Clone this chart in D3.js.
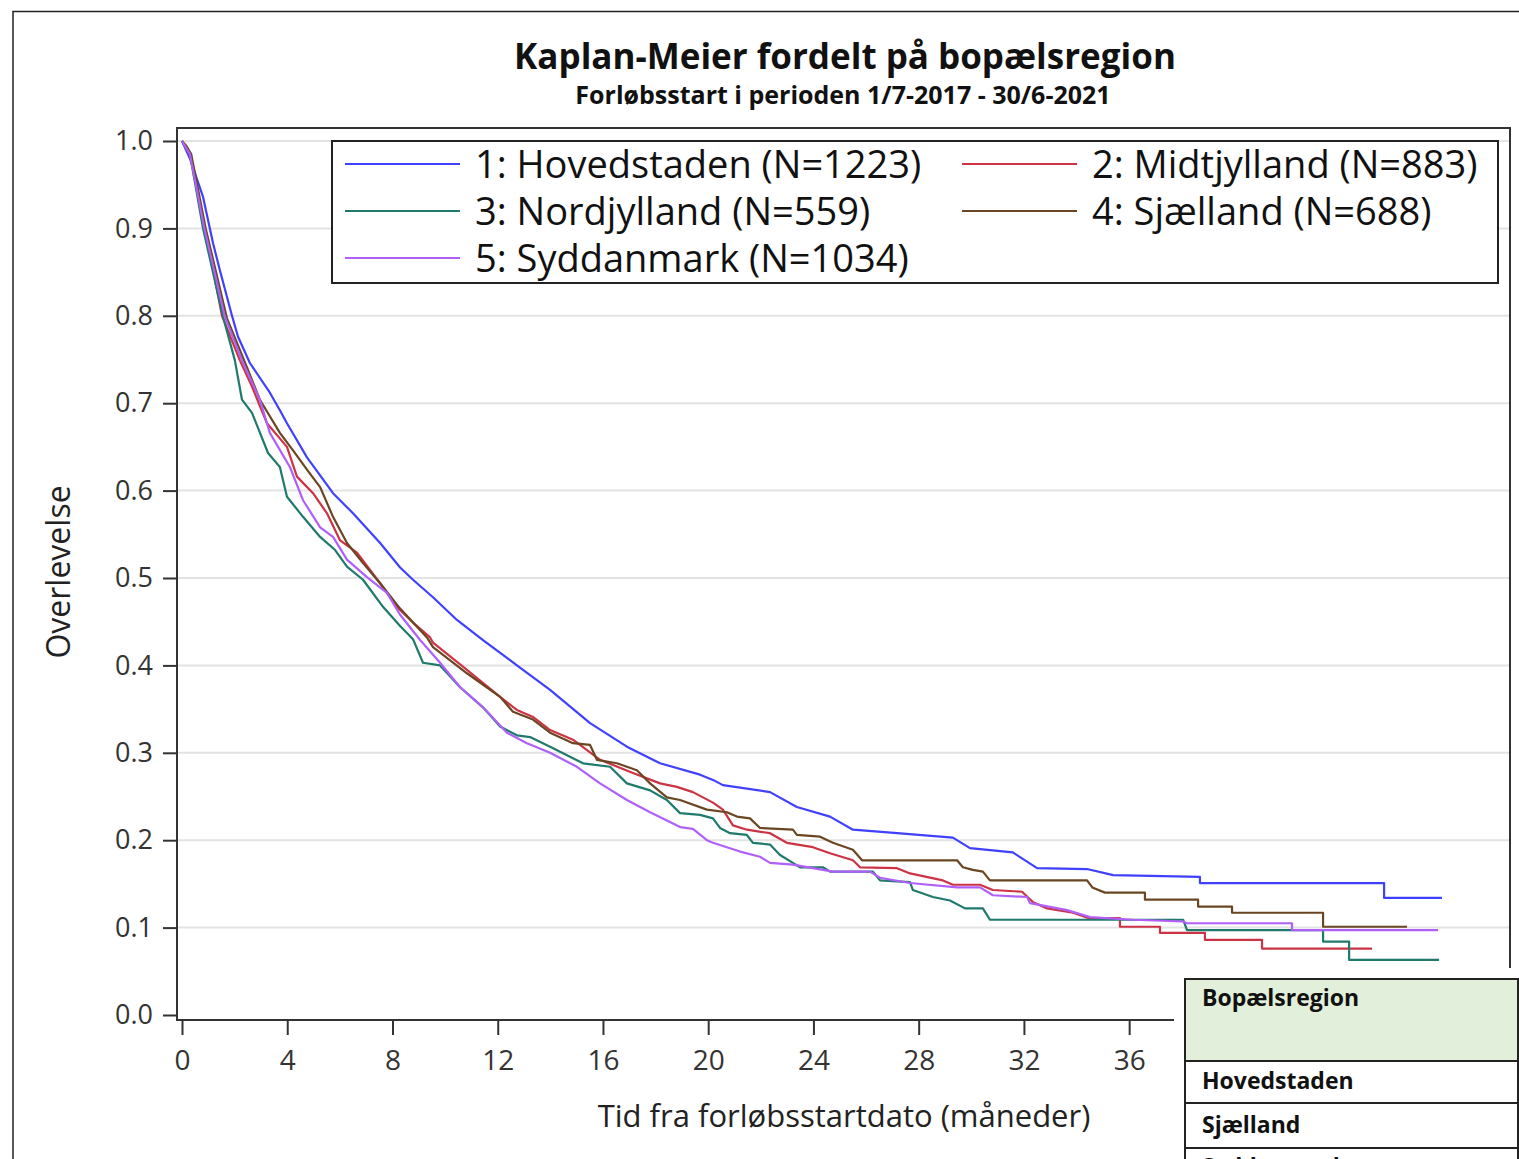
<!DOCTYPE html>
<html>
<head>
<meta charset="utf-8">
<script src="https://cdn.jsdelivr.net/npm/d3@7"></script>
<style>
  body { margin: 0; background: #fff; }
  text { font-family: 'Open Sans', 'Noto Sans', sans-serif; }
</style>
</head>
<body>
<div id="chart-container"></div>
<script>
// Kaplan-Meier data: [months, survival]
const hovedstaden = [
  [0, 1], [0.3, 0.98], [0.8, 0.936], [1.18, 0.883], [1.44, 0.852], [1.9, 0.8], [2.13, 0.776],
  [2.58, 0.746], [3.34, 0.712], [3.72, 0.692], [3.99, 0.677], [4.75, 0.638], [5.74, 0.597],
  [6.5, 0.574], [7.53, 0.54], [8.29, 0.512], [8.78, 0.498], [9.54, 0.478], [10.45, 0.452],
  [11.44, 0.429], [12.73, 0.4], [13.99, 0.372], [15.51, 0.334], [16.91, 0.307], [18.17, 0.288],
  [19.69, 0.275], [20.18, 0.269], [20.56, 0.263], [22.35, 0.255], [23.37, 0.238], [24.63, 0.227],
  [25.5, 0.212], [27.18, 0.208], [29.3, 0.203], [29.95, 0.191], [31.58, 0.186], [32.5, 0.168],
  [34.4, 0.167], [35.39, 0.16], [38.69, 0.158], [38.69, 0.151], [45.69, 0.151], [45.69, 0.134],
  [47.89, 0.134]
];
const midtjylland = [
  [0, 1], [0.3, 0.985], [0.87, 0.9], [1.52, 0.8], [2.2, 0.749], [2.66, 0.719], [3.23, 0.677],
  [3.99, 0.65], [4.37, 0.616], [4.98, 0.597], [5.51, 0.574], [6.01, 0.543], [6.65, 0.529],
  [7.53, 0.494], [8.17, 0.467], [8.78, 0.449], [9.43, 0.432], [9.54, 0.426], [10.83, 0.395],
  [12.09, 0.364], [12.73, 0.349], [13.34, 0.341], [13.99, 0.326], [14.86, 0.315], [15.89, 0.292],
  [17.14, 0.277], [18.17, 0.265], [18.81, 0.261], [19.42, 0.255], [20.18, 0.243], [20.56, 0.235],
  [20.94, 0.217], [21.47, 0.212], [22.35, 0.208], [22.99, 0.197], [23.98, 0.192], [24.63, 0.185],
  [25.5, 0.177], [25.77, 0.169], [27.18, 0.168], [27.67, 0.162], [28.92, 0.154], [29.3, 0.149],
  [30.33, 0.149], [30.82, 0.143], [31.93, 0.141], [32.35, 0.129], [32.88, 0.122], [33.87, 0.117],
  [34.44, 0.111], [35.65, 0.111], [35.65, 0.101], [37.17, 0.101], [37.17, 0.094], [38.88, 0.094],
  [38.88, 0.086], [41.05, 0.086], [41.05, 0.076], [45.23, 0.076]
];
const nordjylland = [
  [0, 1], [0.3, 0.985], [0.8, 0.9], [1.56, 0.799], [2.01, 0.749], [2.28, 0.704], [2.66, 0.689],
  [3.27, 0.643], [3.72, 0.627], [3.99, 0.593], [4.6, 0.57], [5.25, 0.547], [5.82, 0.532],
  [6.27, 0.513], [6.88, 0.498], [7.64, 0.467], [8.29, 0.445], [8.78, 0.43], [9.16, 0.403],
  [9.81, 0.4], [10.57, 0.375], [11.44, 0.352], [12.09, 0.33], [12.73, 0.32], [13.23, 0.318],
  [13.99, 0.307], [15.24, 0.288], [16.27, 0.284], [16.91, 0.265], [17.79, 0.257], [18.43, 0.246],
  [18.93, 0.231], [19.69, 0.229], [20.18, 0.225], [20.45, 0.214], [20.83, 0.208], [21.47, 0.206],
  [21.7, 0.197], [22.35, 0.195], [22.73, 0.183], [23.22, 0.174], [23.49, 0.169], [24.36, 0.169],
  [24.63, 0.164], [26.26, 0.164], [26.53, 0.154], [27.67, 0.152], [27.78, 0.143], [28.54, 0.135],
  [29.19, 0.131], [29.76, 0.122], [30.44, 0.122], [30.71, 0.109], [38.05, 0.109], [38.2, 0.097],
  [43.37, 0.097], [43.37, 0.084], [44.36, 0.084], [44.36, 0.063], [47.78, 0.063]
];
const sjaelland = [
  [0, 1], [0.15, 0.995], [0.35, 0.985], [0.9, 0.9], [1.71, 0.797], [2.47, 0.741], [2.96, 0.704],
  [3.72, 0.666], [4.22, 0.646], [4.75, 0.624], [5.25, 0.604], [5.74, 0.57], [6.27, 0.54],
  [6.88, 0.517], [7.53, 0.494], [8.29, 0.465], [9.31, 0.432], [9.54, 0.421], [10.83, 0.391],
  [12.09, 0.364], [12.58, 0.347], [13.34, 0.338], [13.99, 0.323], [14.86, 0.311], [15.51, 0.309],
  [15.77, 0.292], [16.53, 0.288], [17.29, 0.28], [17.79, 0.265], [18.43, 0.249], [18.93, 0.246],
  [19.95, 0.235], [20.71, 0.232], [21.09, 0.227], [21.59, 0.225], [21.97, 0.214], [23.22, 0.212],
  [23.37, 0.206], [24.25, 0.204], [24.74, 0.197], [25.5, 0.189], [25.85, 0.177], [29.46, 0.177],
  [29.68, 0.169], [30.06, 0.166], [30.44, 0.164], [30.71, 0.154], [34.4, 0.154], [34.6, 0.146],
  [35.08, 0.14], [36.6, 0.14], [36.6, 0.132], [38.62, 0.132], [38.62, 0.124], [39.91, 0.124],
  [39.91, 0.117], [43.37, 0.117], [43.37, 0.101], [46.56, 0.101]
];
const syddanmark = [
  [0, 1], [0.3, 0.985], [0.85, 0.9], [1.63, 0.799], [2.28, 0.749], [2.96, 0.704], [3.34, 0.666],
  [4.1, 0.627], [4.6, 0.589], [5.25, 0.558], [5.74, 0.547], [6.27, 0.521], [7.03, 0.501],
  [7.79, 0.483], [8.29, 0.458], [9.05, 0.429], [9.81, 0.403], [10.57, 0.375], [11.44, 0.352],
  [12.35, 0.323], [13.11, 0.311], [13.99, 0.3], [15.01, 0.284], [15.89, 0.265], [16.91, 0.246],
  [17.79, 0.232], [18.93, 0.215], [19.42, 0.213], [19.95, 0.2], [20.18, 0.197], [21.21, 0.187],
  [21.97, 0.181], [22.35, 0.174], [23.22, 0.172], [23.98, 0.168], [24.74, 0.164], [26.15, 0.164],
  [26.53, 0.157], [27.67, 0.151], [29.46, 0.146], [30.33, 0.146], [30.82, 0.137], [32.12, 0.135],
  [32.23, 0.128], [33.64, 0.12], [34.51, 0.112], [36.15, 0.109], [38.05, 0.107], [38.2, 0.105],
  [42.19, 0.105], [42.19, 0.097], [47.74, 0.097]
];

// Categories and legend text
const regions = ['Hovedstaden', 'Midtjylland', 'Nordjylland', 'Sjælland', 'Syddanmark'];
const regionN = [1223, 883, 559, 688, 1034];
const regionCurves = [hovedstaden, midtjylland, nordjylland, sjaelland, syddanmark];
const colors = ['#4040ff', '#cc3344', '#1f7a6c', '#6b4622', '#b060f8'];

// Tick values (ticks past 36 lie under the pasted table)
const xTicks = [0, 4, 8, 12, 16, 20, 24, 28, 32, 36];
const yTicks = [0, 0.1, 0.2, 0.3, 0.4, 0.5, 0.6, 0.7, 0.8, 0.9, 1.0];

// Table rows shown under the chart
const tableHeader = 'Bopælsregion';
const tableRows = ['Hovedstaden', 'Sjælland', 'Syddanmark'];

const width = 1519;
const height = 1159;
// plot frame
const frame = { left: 177, right: 1510, top: 128, bottom: 1020 };

const svg = d3.select('#chart-container')
  .append('svg')
  .attr('width', width)
  .attr('height', height);

// outer border of the figure
svg.append('path')
  .attr('d', `M13,${height} V11.5 H${width}`)
  .attr('fill', 'none')
  .attr('stroke', '#222')
  .attr('stroke-width', 1.5);

// Titles
svg.append('text')
  .attr('x', 845).attr('y', 69)
  .attr('text-anchor', 'middle')
  .attr('font-size', 35).attr('font-weight', 'bold')
  .attr('fill', '#111')
  .text('Kaplan-Meier fordelt på bopælsregion');

svg.append('text')
  .attr('x', 843).attr('y', 104)
  .attr('text-anchor', 'middle')
  .attr('font-size', 25).attr('font-weight', 'bold')
  .attr('fill', '#111')
  .text('Forløbsstart i perioden 1/7-2017 - 30/6-2021');

// Scales
const xScale = d3.scaleLinear().domain([0, 48]).range([182, 182 + 48 * 26.31]);
const yScale = d3.scaleLinear().domain([0, 1]).range([1015, 141]);

// Gridlines
svg.append('g')
  .selectAll('line')
  .data(yTicks.filter(d => d > 0))
  .enter()
  .append('line')
  .attr('x1', frame.left).attr('x2', frame.right)
  .attr('y1', d => yScale(d)).attr('y2', d => yScale(d))
  .attr('stroke', '#e3e3e3')
  .attr('stroke-width', 2);

// Curves
const line = d3.line()
  .x(d => xScale(d[0]))
  .y(d => yScale(d[1]));

svg.append('g')
  .selectAll('path')
  .data(regionCurves)
  .enter()
  .append('path')
  .attr('d', line)
  .attr('fill', 'none')
  .attr('stroke', (d, i) => colors[i])
  .attr('stroke-width', 2.2)
  .attr('stroke-linejoin', 'round');

// Frame
svg.append('rect')
  .attr('x', frame.left).attr('y', frame.top)
  .attr('width', frame.right - frame.left)
  .attr('height', frame.bottom - frame.top)
  .attr('fill', 'none')
  .attr('stroke', '#333')
  .attr('stroke-width', 2);

// Y axis
const yAxis = d3.axisLeft(yScale)
  .tickValues(yTicks)
  .tickFormat(d3.format('.1f'))
  .tickSize(14)
  .tickPadding(10);
const yAxisG = svg.append('g')
  .attr('transform', `translate(${frame.left},0)`)
  .call(yAxis);
yAxisG.select('.domain').remove();
yAxisG.selectAll('line').attr('stroke', '#333').attr('stroke-width', 2);
yAxisG.selectAll('text')
  .attr('font-size', 27)
  .attr('fill', '#333')
  .style('font-family', "'Open Sans', sans-serif");

// X axis
const xAxis = d3.axisBottom(xScale)
  .tickValues(xTicks)
  .tickSize(15)
  .tickPadding(15);
const xAxisG = svg.append('g')
  .attr('transform', `translate(0,${frame.bottom})`)
  .call(xAxis);
xAxisG.select('.domain').remove();
xAxisG.selectAll('line').attr('stroke', '#333').attr('stroke-width', 2);
xAxisG.selectAll('text')
  .attr('font-size', 28)
  .attr('fill', '#333')
  .style('font-family', "'Open Sans', sans-serif");

// Axis labels
svg.append('text')
  .attr('x', 844).attr('y', 1127)
  .attr('text-anchor', 'middle')
  .attr('font-size', 31)
  .attr('fill', '#222')
  .text('Tid fra forløbsstartdato (måneder)');

svg.append('text')
  .attr('transform', 'translate(70,572) rotate(-90)')
  .attr('text-anchor', 'middle')
  .attr('font-size', 32)
  .attr('fill', '#222')
  .text('Overlevelse');

// Legend
const legend = svg.append('g');
legend.append('rect')
  .attr('x', 332).attr('y', 141)
  .attr('width', 1498 - 332).attr('height', 283 - 141)
  .attr('fill', '#fff')
  .attr('stroke', '#222')
  .attr('stroke-width', 2);

const legendItems = legend.selectAll('g.item')
  .data(regions)
  .enter()
  .append('g')
  .attr('class', 'item')
  .attr('transform', (d, i) => `translate(${i % 2 === 0 ? 345 : 962},${164 + Math.floor(i / 2) * 47})`);

legendItems.append('line')
  .attr('x1', 0).attr('x2', 115)
  .attr('stroke', (d, i) => colors[i])
  .attr('stroke-width', 2.2);

legendItems.append('text')
  .attr('x', 130).attr('y', 14)
  .attr('font-size', 38)
  .attr('fill', '#111')
  .text((d, i) => `${i + 1}: ${d} (N=${regionN[i]})`);

// Table pasted over the lower right corner
svg.append('rect')
  .attr('x', 1174).attr('y', 968)
  .attr('width', width - 1174).attr('height', height - 968)
  .attr('fill', '#fff');

const table = svg.append('g');
table.append('rect')
  .attr('x', 1185).attr('y', 979)
  .attr('width', 1518 - 1185).attr('height', 1061 - 979)
  .attr('fill', '#e2efda');

const rowLines = [979, 1061, 1103, 1148];
table.selectAll('line.row')
  .data(rowLines)
  .enter()
  .append('line')
  .attr('x1', 1185).attr('x2', 1518)
  .attr('y1', d => d).attr('y2', d => d)
  .attr('stroke', '#222')
  .attr('stroke-width', 2);

table.append('line')
  .attr('x1', 1185).attr('x2', 1185)
  .attr('y1', 978).attr('y2', height)
  .attr('stroke', '#222').attr('stroke-width', 2);
table.append('line')
  .attr('x1', 1518).attr('x2', 1518)
  .attr('y1', 978).attr('y2', height)
  .attr('stroke', '#222').attr('stroke-width', 2);

table.append('text')
  .attr('x', 1202).attr('y', 1006)
  .attr('font-size', 23).attr('font-weight', 'bold')
  .attr('fill', '#111')
  .text(tableHeader);

const rowBaselines = [1089, 1133, 1175];
table.selectAll('text.row')
  .data(tableRows)
  .enter()
  .append('text')
  .attr('class', 'row')
  .attr('x', 1202)
  .attr('y', (d, i) => rowBaselines[i])
  .attr('font-size', 23).attr('font-weight', 'bold')
  .attr('fill', '#111')
  .text(d => d);
</script>
</body>
</html>
